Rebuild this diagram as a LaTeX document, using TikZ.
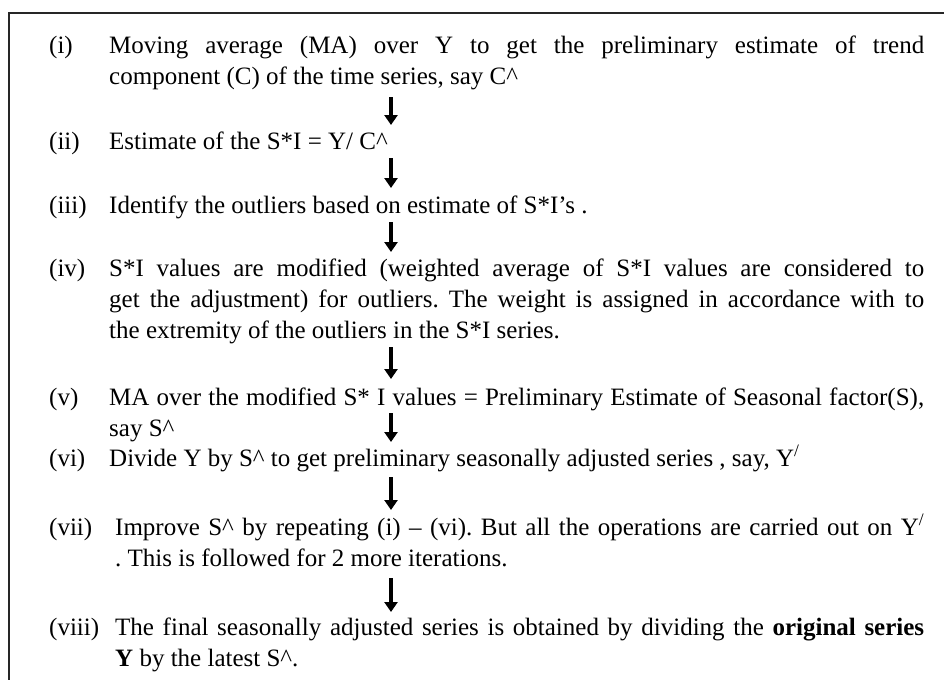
\documentclass[tikz,border=0pt]{standalone}
\usepackage{fontspec}
\setmainfont{Liberation Serif}
\usetikzlibrary{arrows.meta}
\tolerance=10000
\hbadness=10000
\hyphenpenalty=10000
\frenchspacing
\newcommand\stepfont{\fontsize{25}{31}\selectfont\frenchspacing}
\begin{document}
\begin{tikzpicture}[x=1pt,y=-1pt,
  lbl/.style={font=\stepfont, anchor=base west, inner sep=0pt},
  txt/.style={font=\stepfont, anchor=base west, inner sep=0pt, align=justify, text width=815pt},
  txtw/.style={txt, text width=809pt},
  flow/.style={line width=4pt, -{Triangle[width=13pt,length=10pt]}},
  frame/.style={line width=2pt, draw=black!85, line join=miter}]
\useasboundingbox (0,0) rectangle (944,680);
\draw[frame] (944,13) -- (9,13) -- (9,680);

\node[lbl] (l1) at (49,53) {(i)};
\node[txt] (t1) at (109,53) {Moving average (MA) over Y to get the preliminary estimate of trend\linebreak component (C) of the time series, say C\textasciicircum};

\node[lbl] (l2) at (49,149) {(ii)};
\node[txt] (t2) at (109,149) {Estimate of the S*I = Y/ C\textasciicircum};

\node[lbl] (l3) at (49,213) {(iii)};
\node[txt] (t3) at (109,213) {Identify the outliers based on estimate of S*I’s .};

\node[lbl] (l4) at (49,276) {(iv)};
\node[txt] (t4) at (109,276) {S*I values are modified (weighted average of S*I values are considered to\linebreak get the adjustment) for outliers. The weight is assigned in accordance with to\linebreak the extremity of the outliers in the S*I series.};

\node[lbl] (l5) at (49,405) {(v)};
\node[txt] (t5) at (109,405) {MA over the modified S* I values = Preliminary Estimate of Seasonal factor(S),\linebreak say S\textasciicircum};

\node[lbl] (l6) at (49,466) {(vi)};
\node[txt] (t6) at (109,466) {Divide Y by S\textasciicircum{} to get preliminary seasonally adjusted series , say, Y\textsuperscript{/}};

\node[lbl] (l7) at (49,535) {(vii)};
\node[txtw] (t7) at (115,535) {Improve S\textasciicircum{} by repeating (i) – (vi). But all the operations are carried out on Y\textsuperscript{/}\linebreak . This is followed for 2 more iterations.};

\node[lbl] (l8) at (49,635) {(viii)};
\node[txtw] (t8) at (115,635) {The final seasonally adjusted series is obtained by dividing the \textbf{original series}\linebreak \textbf{Y} by the latest S\textasciicircum.};

\coordinate (a1s) at (391,97);  \coordinate (a1e) at (391,125);
\coordinate (a2s) at (391,158); \coordinate (a2e) at (391,188);
\coordinate (a3s) at (391,222); \coordinate (a3e) at (391,252);
\coordinate (a4s) at (391,347); \coordinate (a4e) at (391,379);
\coordinate (a5s) at (391,413); \coordinate (a5e) at (391,442);
\coordinate (a6s) at (391,477); \coordinate (a6e) at (391,510);
\coordinate (a7s) at (391,578); \coordinate (a7e) at (391,612);
\foreach \i in {1,...,7} {\draw[flow] (a\i s) -- (a\i e);}
\end{tikzpicture}
\end{document}
